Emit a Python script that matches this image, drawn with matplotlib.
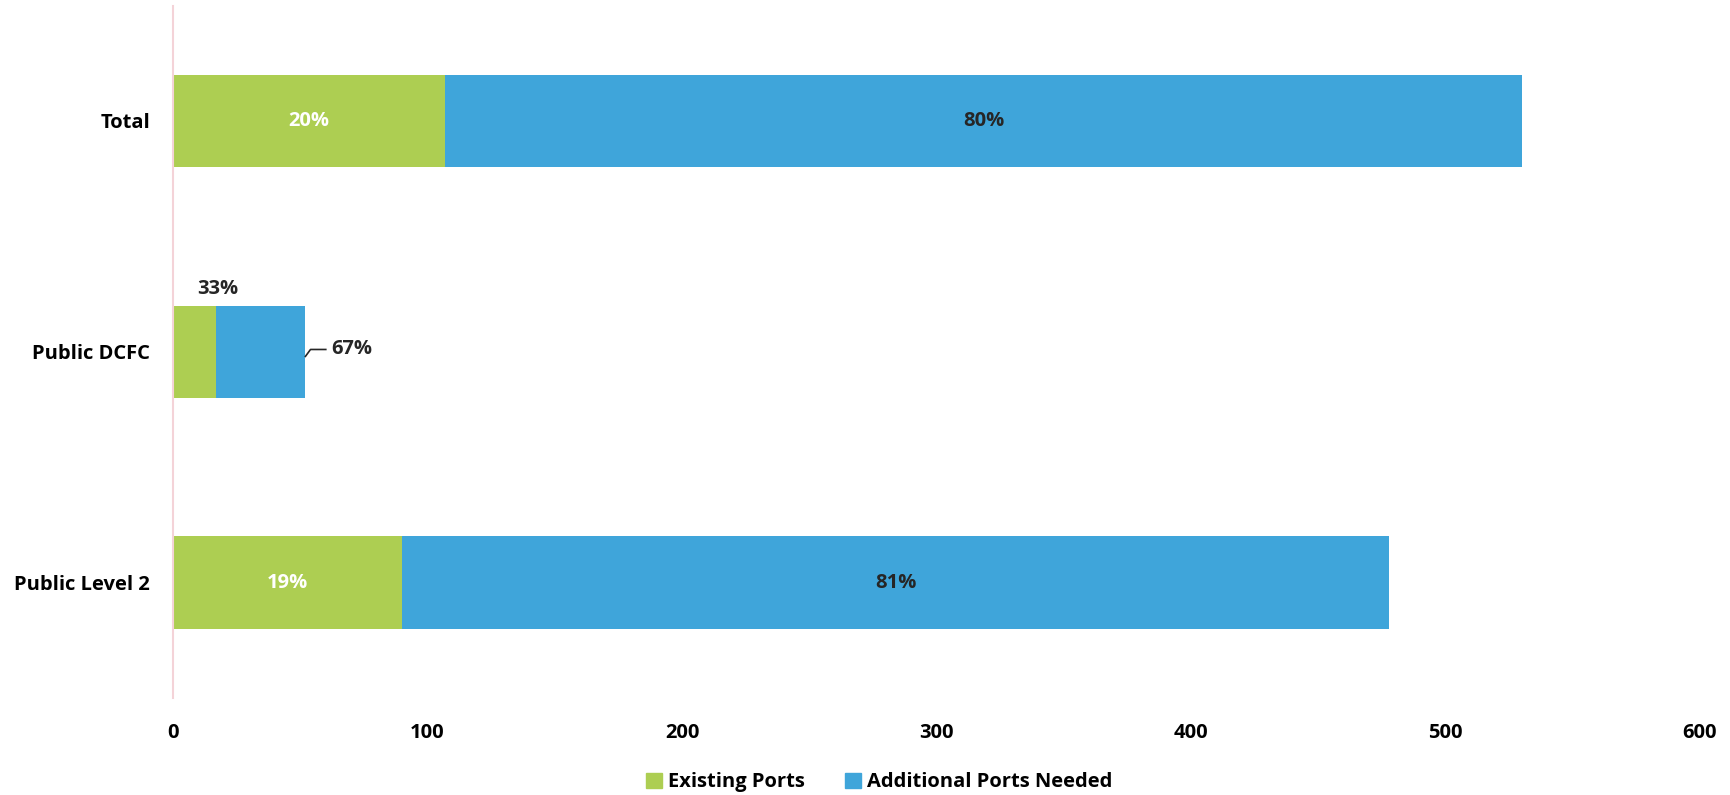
import matplotlib
matplotlib.use("Agg")
import matplotlib.pyplot as plt
from matplotlib.patches import Patch

categories = ["Total", "Public DCFC", "Public Level 2"]
existing = [107, 17, 90]
additional = [423, 35, 388]
existing_pct = ["20%", "33%", "19%"]
additional_pct = ["80%", "67%", "81%"]
xticks = [0, 100, 200, 300, 400, 500, 600]

GREEN = "#ADCE52"
BLUE = "#3FA5DA"
DARK = "#262626"
FONT = "Open Sans"
FS = 14.5

plt.rcParams['font.family'] = [FONT, 'DejaVu Sans']
fig = plt.figure(figsize=(17.31, 7.95), dpi=100)
ax = fig.add_axes([0.1, 0.122, 0.882, 0.871])

ypos = list(range(len(categories)))
h = 0.4
ax.barh(ypos, existing, height=h, color=GREEN, label="Existing Ports")
ax.barh(ypos, additional, left=existing, height=h, color=BLUE, label="Additional Ports Needed")

ax.set_xlim(0, 600)
ax.set_ylim(2.5, -0.5)
ax.set_xticks(xticks)
ax.set_xticklabels([str(t) for t in xticks], fontsize=FS, fontweight="bold")
ax.set_yticks(ypos)
ax.set_yticklabels(categories, fontsize=FS, fontweight="bold")
ax.tick_params(axis="both", length=0)
ax.tick_params(axis="x", pad=18)
ax.tick_params(axis="y", pad=16.5)
for s in ["top", "right", "bottom"]:
    ax.spines[s].set_visible(False)
ax.spines["left"].set_color("#F4D3D8")
ax.spines["left"].set_linewidth(1.5)

for i in ypos:
    e, a = existing[i], additional[i]
    if i == 1:
        ax.text(e / 2 + 9, i - h / 2 - 0.03, existing_pct[i], ha="center", va="bottom",
                fontsize=FS, fontweight="bold", color=DARK)
        ax.plot([e + a, e + a + 2, e + a + 8], [i + 0.02, i - 0.01, i - 0.01], color=DARK, lw=1.2)
        ax.text(e + a + 10, i - 0.01, additional_pct[i], ha="left", va="center",
                fontsize=FS, fontweight="bold", color=DARK)
    else:
        ax.text(e / 2, i, existing_pct[i], ha="center", va="center",
                fontsize=FS, fontweight="bold", color="white")
        ax.text(e + a / 2, i, additional_pct[i], ha="center", va="center",
                fontsize=FS, fontweight="bold", color=DARK)

handles = [Patch(color=GREEN, label="Existing Ports"), Patch(color=BLUE, label="Additional Ports Needed")]
fig.legend(handles=handles, loc="center", bbox_to_anchor=(0.508, 0.016), ncol=2, frameon=False,
           prop={"family": FONT, "weight": "bold", "size": FS}, handlelength=0.8, handleheight=0.8,
           handletextpad=0.3, columnspacing=2.0)

fig.savefig("out.png", dpi=100)
